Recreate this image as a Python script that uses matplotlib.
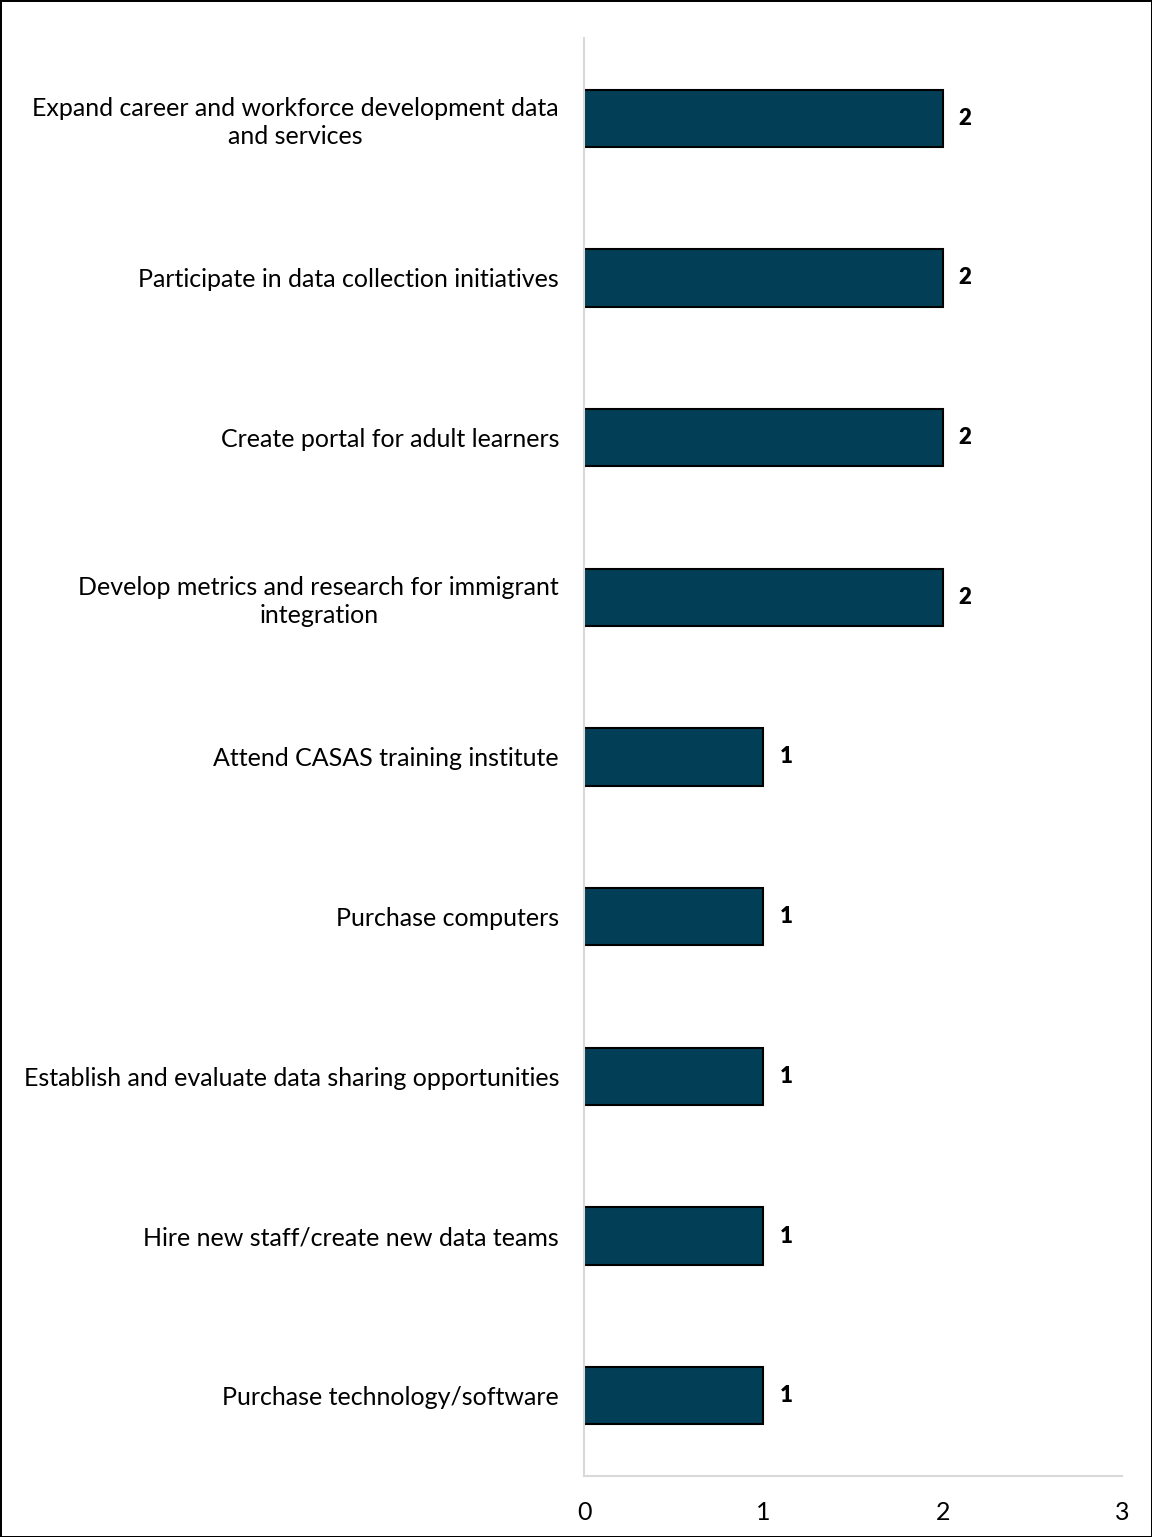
import matplotlib.pyplot as plt

labels = ['Expand career and workforce development data\nand services',
          'Participate in data collection initiatives',
          'Create portal for adult learners',
          'Develop metrics and research for immigrant\nintegration',
          'Attend CASAS training institute',
          'Purchase computers',
          'Establish and evaluate data sharing opportunities',
          'Hire new staff/create new data teams',
          'Purchase technology/software']
counts = [2, 2, 2, 2, 1, 1, 1, 1, 1]

plt.rcParams['font.family'] = ['Lato', 'DejaVu Sans']

fig = plt.figure(figsize=(11.52, 15.37), dpi=100)
fig.patch.set_edgecolor('black')
fig.patch.set_linewidth(2)
ax = fig.add_axes([0.507, 0.040, 0.467, 0.935])

ypos = list(range(len(labels)))
ax.barh(ypos, counts, height=0.36, color='#023F56', edgecolor='black', linewidth=1.5)
for y, v in zip(ypos, counts):
    ax.text(v + 0.09, y, str(v), va='center', ha='left', fontsize=16, fontweight='heavy')

ax.set_ylim(len(labels) - 0.5, -0.5)
ax.set_xlim(0, 3)
ax.set_xticks([0, 1, 2, 3])
ax.set_yticks(ypos)
ax.set_yticklabels(labels, fontsize=18, multialignment='center', linespacing=1.25)
ax.tick_params(axis='y', length=0, pad=18)
ax.tick_params(axis='x', length=0, pad=18, labelsize=18)

for s in ['top', 'right']:
    ax.spines[s].set_visible(False)
ax.spines['left'].set_color('#D9D9D9')
ax.spines['bottom'].set_color('#D9D9D9')
ax.spines['left'].set_linewidth(1.5)
ax.spines['bottom'].set_linewidth(1.5)

fig.savefig('out.png', dpi=100, edgecolor=fig.get_edgecolor())
